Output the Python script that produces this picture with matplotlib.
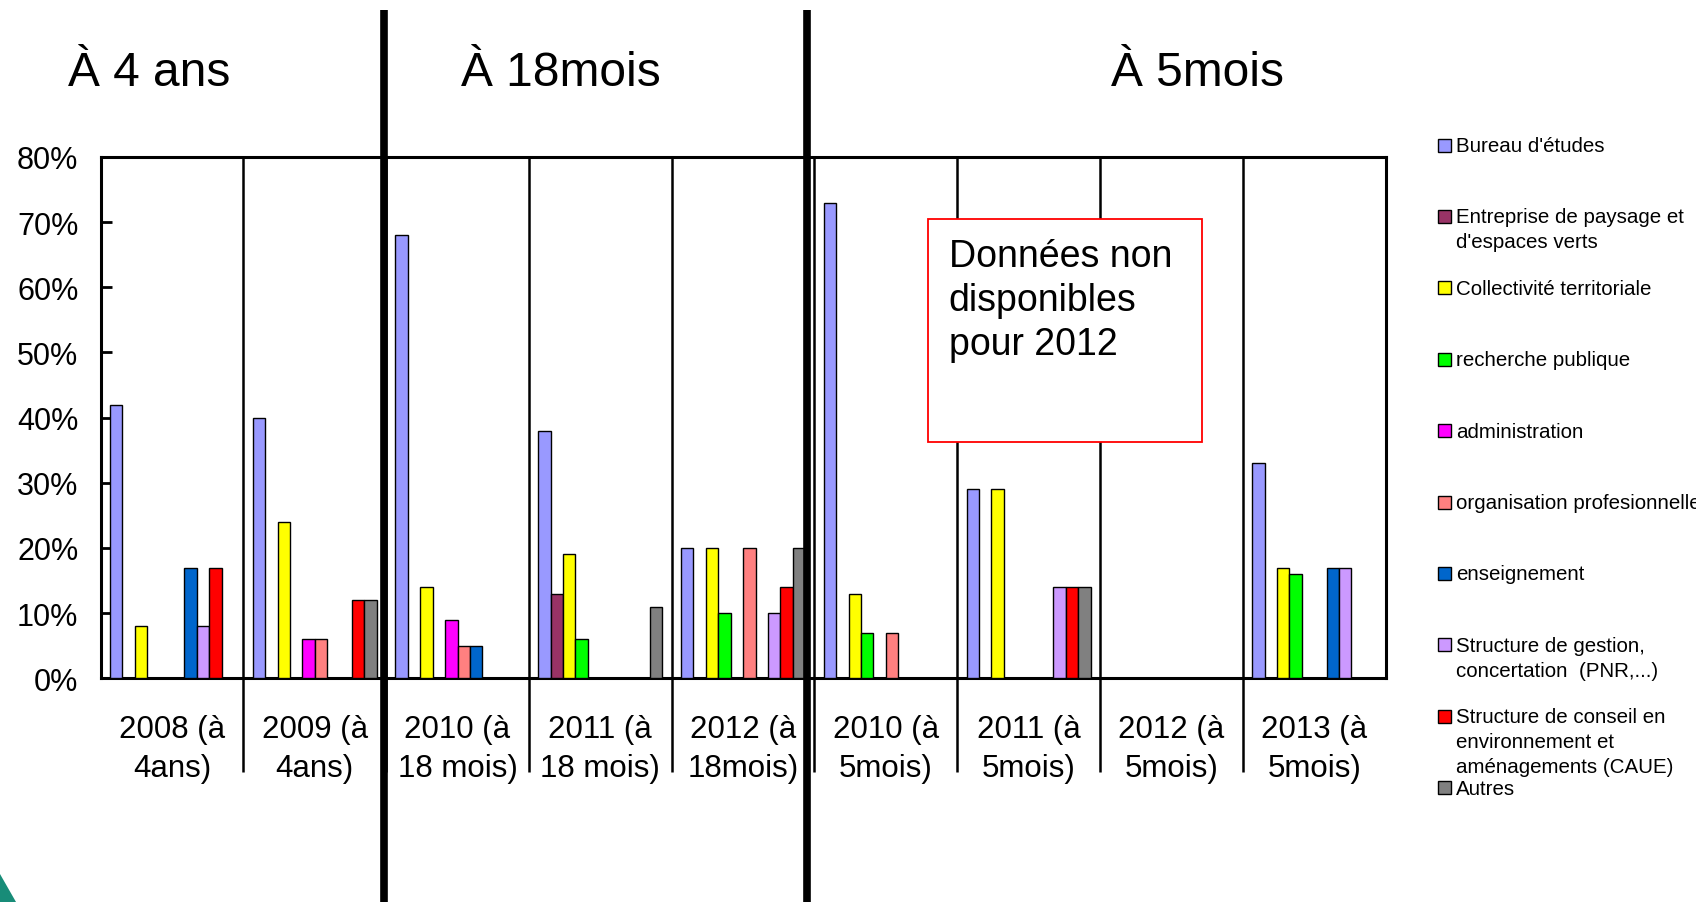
import numpy as np
import matplotlib
matplotlib.use("Agg")
import matplotlib.pyplot as plt
from matplotlib.patches import Rectangle, Polygon
from matplotlib.lines import Line2D

plt.rcParams['font.family'] = ['Liberation Sans', 'DejaVu Sans']

# groups (x categories)
groups = ["2008 (à\n4ans)", "2009 (à\n4ans)", "2010 (à\n18 mois)", "2011 (à\n18 mois)",
          "2012 (à\n18mois)", "2010 (à\n5mois)", "2011 (à\n5mois)", "2012 (à\n5mois)",
          "2013 (à\n5mois)"]

# values in % per series
bureau = [42, 40, 68, 38, 20, 73, 29, 0, 33]
entreprise = [0, 0, 0, 13, 0, 0, 0, 0, 0]
collectivite = [8, 24, 14, 19, 20, 13, 29, 0, 17]
recherche = [0, 0, 0, 6, 10, 7, 0, 0, 16]
administration = [0, 6, 9, 0, 0, 0, 0, 0, 0]
organisation = [0, 6, 5, 0, 20, 7, 0, 0, 0]
enseignement = [17, 0, 5, 0, 0, 0, 0, 0, 17]
gestion = [8, 0, 0, 0, 10, 0, 14, 0, 17]
conseil = [17, 12, 0, 0, 14, 0, 14, 0, 0]
autres = [0, 12, 0, 11, 20, 0, 14, 0, 0]

series_names = ["Bureau d'études", "Entreprise de paysage et\nd'espaces verts",
                "Collectivité territoriale", "recherche publique", "administration",
                "organisation profesionnelle", "enseignement",
                "Structure de gestion,\nconcertation  (PNR,...)",
                "Structure de conseil en\nenvironnement et\naménagements (CAUE)", "Autres"]
series_vals = [bureau, entreprise, collectivite, recherche, administration,
               organisation, enseignement, gestion, conseil, autres]
colors = ["#9999FF", "#993366", "#FFFF00", "#00FF00", "#FF00FF",
          "#FF8080", "#0066CC", "#CC99FF", "#FF0000", "#808080"]

period_titles = ["À 4 ans", "À 18mois", "À 5mois"]
yticks = [0, 10, 20, 30, 40, 50, 60, 70, 80]

W, H = 1696, 903
fig = plt.figure(figsize=(W / 100, H / 100), dpi=100)
ax = fig.add_axes([100.6 / W, 1 - 679.3 / H, 1285 / W, 521.4 / H])

x = np.arange(len(groups))
bw = 0.087
n = len(series_vals)
for i, (vals, c) in enumerate(zip(series_vals, colors)):
    vals = np.array(vals, dtype=float)
    pos = x - 0.5 + (1 - n * bw) / 2 + bw * (i + 0.5)
    keep = vals > 0
    ax.bar(pos[keep], vals[keep], width=bw, color=c, edgecolor="black", linewidth=1.0, zorder=3)

ax.set_xlim(-0.5, len(groups) - 0.5)
ax.set_ylim(0, 80)
ax.set_yticks(yticks)
ax.set_yticklabels([f"{v}%" for v in yticks], fontsize=22)
ax.tick_params(axis="y", direction="in", length=8, width=2, pad=16)
ax.set_xticks(x)
ax.set_xticklabels(groups, fontsize=22.5, linespacing=1.36)
ax.tick_params(axis="x", length=0, pad=26)
for s in ax.spines.values():
    s.set_linewidth(2.2)

# group separators (extend below axis)
ax.vlines(x[1:] - 0.5, -0.18, 1, transform=ax.get_xaxis_transform(),
          colors="black", linewidth=1.8, clip_on=False, zorder=4)

# thick period separators
for px in [384, 807]:
    fig.add_artist(Line2D([px / W, px / W], [0, 1 - 11 / H], color="black",
                          linewidth=5.5, solid_capstyle="butt"))

# period titles
for t, cx in zip(period_titles, [148.7, 560.8, 1197.9]):
    fig.text(cx / W, 1 - 73 / H, t, fontsize=34.5, ha="center", va="center")

# note box
fig.add_artist(Rectangle((928 / W, 1 - 443 / H), 274 / W, 223 / H, facecolor="white",
                         edgecolor="red", linewidth=1.3, zorder=5))
fig.text(948.6 / W, 1 - 239 / H, "Données non\ndisponibles\npour 2012", fontsize=27,
         ha="left", va="top", linespacing=1.28, zorder=6)

# legend
for i, (name, c) in enumerate(zip(series_names, colors)):
    yc = 1 - (146 + 71.4 * i) / H
    fig.add_artist(Rectangle((1437.5 / W, yc - 6.5 / H), 13 / W, 13 / H, facecolor=c,
                             edgecolor="black", linewidth=1.0))
    fig.text(1456 / W, yc + 9 / H, name, fontsize=14.8, ha="left", va="top", linespacing=1.4)

# corner decoration
fig.add_artist(Polygon([(0, 1 - 875 / H), (16 / W, 0), (0, 0)], closed=True,
                       facecolor="#188C78", edgecolor="none"))

fig.savefig("out.png", dpi=100)
